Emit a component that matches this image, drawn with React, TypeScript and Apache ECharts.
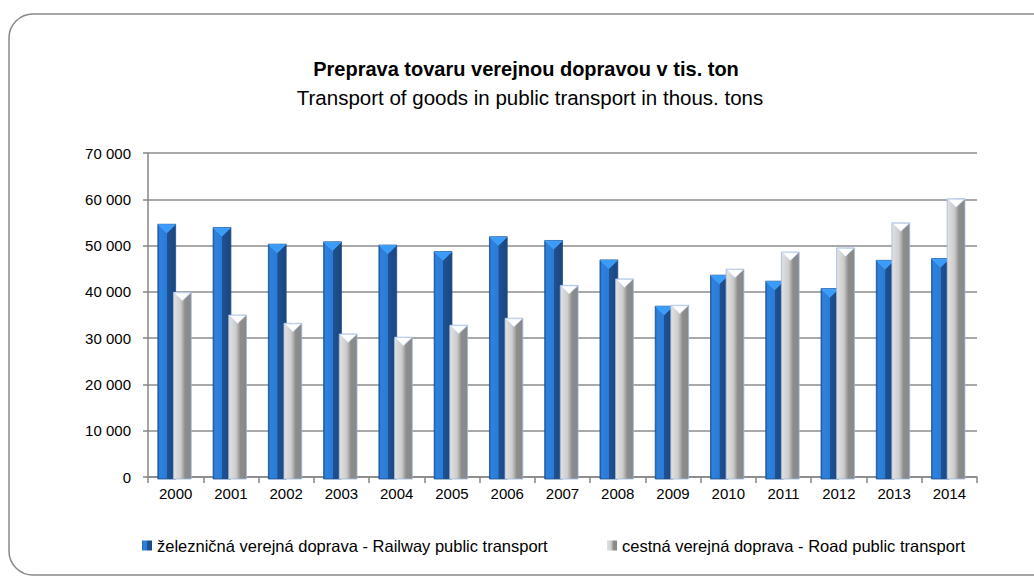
import React, { useEffect, useRef } from "react";
import * as echarts from "echarts";

const years = ["2000", "2001", "2002", "2003", "2004", "2005", "2006", "2007", "2008", "2009", "2010", "2011", "2012", "2013", "2014"];
const railway = [54600, 53900, 50300, 50800, 50100, 48700, 51900, 51100, 46900, 36900, 43600, 42300, 40700, 46800, 47200];
const road = [39900, 35000, 33200, 30900, 30200, 32800, 34300, 41400, 42800, 37100, 44900, 48600, 49500, 54900, 60100];
const railName = "železničná verejná doprava - Railway public transport";
const roadName = "cestná verejná doprava - Road public transport";
const titleMain = "Preprava tovaru verejnou dopravou v tis. ton";
const titleSub = "Transport of goods in public transport in thous. tons";
const yTicks = { min: 0, max: 70000, interval: 10000 };

const FONT = '"Liberation Sans", Arial, sans-serif';

const railGrad = () =>
  new echarts.graphic.LinearGradient(0, 0, 1, 0, [
    { offset: 0, color: "#1c5aa6" },
    { offset: 0.1, color: "#2d82de" },
    { offset: 0.5, color: "#2a7bd4" },
    { offset: 0.52, color: "#1f5192" },
    { offset: 1, color: "#1b4680" },
  ]);
const roadGrad = () =>
  new echarts.graphic.LinearGradient(0, 0, 1, 0, [
    { offset: 0, color: "#e2e2e2" },
    { offset: 0.4, color: "#cdcdcd" },
    { offset: 0.55, color: "#a9a9a9" },
    { offset: 0.65, color: "#8d8d8d" },
    { offset: 1, color: "#888888" },
  ]);

function makeRender(isRail: boolean) {
  return (params: any, api: any) => {
    const i = api.value(0);
    const v = api.value(1);
    const p = api.coord([i, v]);
    const b = api.coord([i, 0]);
    const cw = api.size([1, 0])[0];
    const bw = cw * 0.322;
    const x0 = isRail ? p[0] - bw : p[0] - cw * 0.04;
    const h = b[1] - p[1] + 2;
    const capH = bw * 0.48;
    return {
      type: "group",
      children: [
        {
          type: "rect",
          shape: { x: x0, y: p[1], width: bw, height: h },
          style: {
            fill: isRail ? railGrad() : roadGrad(),
            stroke: isRail ? "#1d4f8c" : "#9db8dc",
            lineWidth: 0.8,
          },
        },
        {
          type: "polygon",
          shape: {
            points: [
              [x0 + 0.5, p[1] + 0.5],
              [x0 + bw - 0.5, p[1] + 0.5],
              [x0 + bw * 0.5, p[1] + capH],
            ],
          },
          style: {
            fill: isRail ? "#3a9cf8" : "#ffffff",
            stroke: isRail ? "#4aa6ff" : "#c4d8f2",
            lineWidth: 0.8,
          },
        },
      ],
    };
  };
}

const fmt = (v: number) => String(v).replace(/\B(?=(\d{3})+(?!\d))/g, " ");

export default function App() {
  const ref = useRef<HTMLDivElement>(null);
  useEffect(() => {
    if (!ref.current) return;
    const chart = echarts.init(ref.current, undefined, { renderer: "svg" });
    const legendText = { fontFamily: FONT, fontSize: 16.5, color: "#000" };
    chart.setOption({
      animation: false,
      backgroundColor: "#ffffff",
      graphic: [
        {
          type: "rect",
          shape: { x: 9, y: 14, width: 1050, height: 561, r: 24 },
          style: { fill: "none", stroke: "#888888", lineWidth: 1.5 },
          z: -10,
        },
        {
          type: "text",
          x: 526,
          y: 69,
          style: {
            text: titleMain,
            font: `bold 20px ${FONT}`,
            fill: "#000",
            align: "center",
            verticalAlign: "middle",
          },
        },
        {
          type: "text",
          x: 530,
          y: 97,
          style: {
            text: titleSub,
            font: `20.5px ${FONT}`,
            fill: "#000",
            align: "center",
            verticalAlign: "middle",
          },
        },
      ],
      legend: [
        {
          data: [railName],
          left: 137,
          top: 532,
          icon: "rect",
          itemWidth: 10,
          itemHeight: 10,
          textStyle: legendText,
        },
        {
          data: [roadName],
          left: 602,
          top: 532,
          icon: "rect",
          itemWidth: 10,
          itemHeight: 10,
          textStyle: legendText,
        },
      ],
      grid: { left: 148, right: 57, top: 153, bottom: 104, containLabel: false },
      xAxis: {
        type: "category",
        data: years,
        boundaryGap: true,
        axisLine: { lineStyle: { color: "#868686", width: 1.5 } },
        axisTick: { show: true, interval: 0, length: 6, lineStyle: { color: "#868686", width: 1.5 } },
        axisLabel: { fontFamily: FONT, fontSize: 15, color: "#000", margin: 9 },
      },
      yAxis: {
        type: "value",
        min: yTicks.min,
        max: yTicks.max,
        interval: yTicks.interval,
        axisLine: { show: true, lineStyle: { color: "#868686", width: 1.5 } },
        axisTick: { show: true, length: 5, lineStyle: { color: "#868686", width: 1.5 } },
        axisLabel: { fontFamily: FONT, fontSize: 15, color: "#000", margin: 17, formatter: fmt },
        splitLine: { lineStyle: { color: "#8c8c8c", width: 1.5 } },
      },
      series: [
        {
          name: railName,
          type: "custom",
          renderItem: makeRender(true),
          encode: { x: 0, y: 1 },
          itemStyle: { color: railGrad() },
          data: railway.map((v, i) => [i, v]),
          z: 2,
        },
        {
          name: roadName,
          type: "custom",
          renderItem: makeRender(false),
          encode: { x: 0, y: 1 },
          itemStyle: { color: roadGrad() },
          data: road.map((v, i) => [i, v]),
          z: 3,
        },
      ],
    });
    return () => chart.dispose();
  }, []);
  return (
    <div
      ref={ref}
      style={{ position: "fixed", left: 0, top: 0, width: 1034, height: 581 }}
    />
  );
}
